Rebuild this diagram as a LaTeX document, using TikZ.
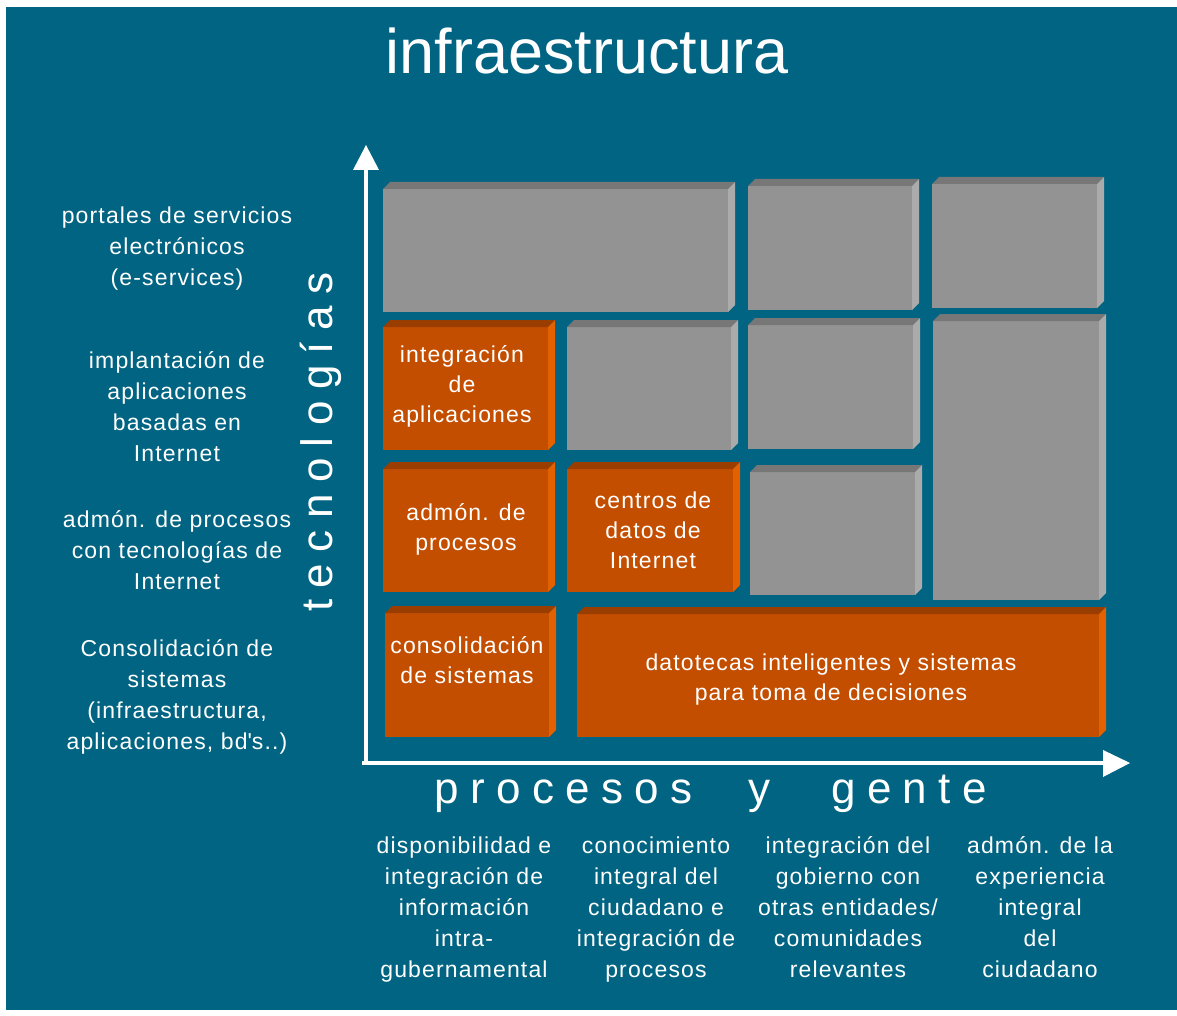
\documentclass[tikz,border=0pt]{standalone}
\usepackage{fontspec}
\setmainfont{Liberation Sans}[LetterSpace=5]
\newfontfamily\axisfont{Liberation Sans}[LetterSpace=26]
\newfontfamily\titlefont{Liberation Sans}
\definecolor{bg}{HTML}{006482}
\definecolor{gfront}{HTML}{939393}
\definecolor{gtop}{HTML}{777777}
\definecolor{gside}{HTML}{ABABAB}
\definecolor{ofront}{HTML}{C44E00}
\definecolor{otop}{HTML}{9A3D00}
\definecolor{oside}{HTML}{E36100}
% name, x1, y1, x2, y2, kind (g / o)
\newcommand\bevbox[6]{%
  \fill[#6front] (#2,#3) rectangle (#4,#5);
  \fill[#6top] (#2,#3) -- (#2+7,#3-7) -- (#4+7,#3-7) -- (#4,#3) -- cycle;
  \fill[#6side] (#4,#3) -- (#4+7,#3-7) -- (#4+7,#5-7) -- (#4,#5) -- cycle;
  \coordinate (#1) at ({(#2+#4)/2},{(#3+#5)/2});
}
\tikzset{
  lbl/.style={text=white, align=center, inner sep=0pt, font=\fontsize{23}{31}\selectfont},
  boxtxt/.style={text=white, align=center, inner sep=0pt, font=\fontsize{23}{30}\selectfont},
  axislbl/.style={text=white, inner sep=0pt, font=\axisfont\fontsize{44}{50}\selectfont},
  axisline/.style={draw=white, line width=4.5pt},
}
\begin{document}
\begin{tikzpicture}[x=1pt,y=-1pt]
\useasboundingbox (0,0) rectangle (1177,1016);
\fill[white] (0,0) rectangle (1177,1016);
\fill[bg] (6,7) rectangle (1177,1010);

\node[anchor=base, text=white, inner sep=0pt, font=\titlefont\fontsize{63}{70}\selectfont] (title) at (587,74) {infraestructura};

% boxes
\bevbox{a1}{383}{189}{728}{312}{g}
\bevbox{a2}{748}{186}{912}{310}{g}
\bevbox{a3}{932}{184}{1097}{308}{g}
\bevbox{b1}{383}{327}{548}{450}{o}
\bevbox{b2}{567}{327}{731}{450}{g}
\bevbox{b3}{748}{325}{913}{449}{g}
\bevbox{b4}{933}{321}{1099}{600}{g}
\bevbox{c1}{383}{469}{548}{592}{o}
\bevbox{c2}{567}{469}{733}{592}{o}
\bevbox{c3}{750}{472}{915}{595}{g}
\bevbox{d1}{385}{613}{549}{737}{o}
\bevbox{d2}{577}{614}{1099}{737}{o}

\node[boxtxt] (tb1) at (462,386) {integración\\de\\aplicaciones};
\node[boxtxt] (tc1) at (466,529) {admón. de\\procesos};
\node[boxtxt] (tc2) at (653,530) {centros de\\datos de\\Internet};
\node[boxtxt] (td1) at (467,660) {consolidación\\de sistemas};
\node[boxtxt] (td2) at (831,680) {datotecas inteligentes y sistemas\\para toma de decisiones};

% axes
\coordinate (orig) at (366,763);
\coordinate (ytop) at (366,168);
\coordinate (ytip) at (366,145);
\coordinate (xstart) at (362,763);
\coordinate (xend) at (1104,763);
\coordinate (xtip) at (1130,763);
\draw[axisline] (orig) -- (ytop);
\draw[axisline] (xstart) -- (xend);
\fill[white] (ytip) -- (353,170) -- (379,170) -- cycle;
\fill[white] (xtip) -- (1103,750) -- (1103,777) -- cycle;

\node[axislbl, rotate=90, anchor=base west] (tec) at (332,612) {tecnologías};
\node[axislbl, anchor=base west] (proc) at (434,803) {procesos};
\node[axislbl, anchor=base west] (yy) at (748,803) {y};
\node[axislbl, anchor=base west] (gente) at (831,803) {gente};

% left labels
\node[lbl] (l1) at (177,249) {portales de servicios\\electrónicos\\(e-services)};
\node[lbl] (l2) at (177,407) {implantación de\\aplicaciones\\basadas en\\Internet};
\node[lbl] (l3) at (177,550) {admón. de procesos\\con tecnologías de\\Internet};
\node[lbl] (l4) at (177,697) {Consolidación de\\sistemas\\(infraestructura,\\aplicaciones, bd\textquotesingle s..)};

% bottom labels
\node[lbl] (m1) at (464,910) {disponibilidad e\\integración de\\información\\intra-\\gubernamental};
\node[lbl] (m2) at (656,910) {conocimiento\\integral del\\ciudadano e\\integración de\\procesos};
\node[lbl] (m3) at (848,907) {integración del\\gobierno con\\otras entidades/\\comunidades\\relevantes};
\node[lbl] (m4) at (1040,907) {admón. de la\\experiencia\\integral\\del\\ciudadano};
\end{tikzpicture}
\end{document}
